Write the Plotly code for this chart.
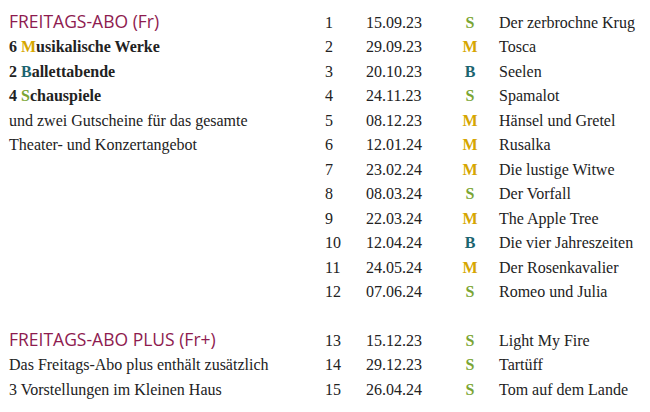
import plotly.graph_objects as go

RED = "#8e1b4f"; GOLD = "#d6a600"; TEAL = "#1b6470"; GREEN = "#7aa533"; INK = "#222222"
cat_color = {"S": GREEN, "M": GOLD, "B": TEAL}

rows = [0,1,2,3,4,5,6,7,8,9,10,11,13,14,15]
numbers = [str(i) for i in range(1, 16)]
dates = ["15.09.23","29.09.23","20.10.23","24.11.23","08.12.23","12.01.24","23.02.24","08.03.24",
         "22.03.24","12.04.24","24.05.24","07.06.24","15.12.23","29.12.23","26.04.24"]
cats = ["S","M","B","S","M","M","M","S","M","B","M","S","S","S","S"]
titles = ["Der zerbrochne Krug","Tosca","Seelen","Spamalot","Hänsel und Gretel","Rusalka","Die lustige Witwe",
          "Der Vorfall","The Apple Tree","Die vier Jahreszeiten","Der Rosenkavalier","Romeo und Julia",
          "Light My Fire","Tartüff","Tom auf dem Lande"]

head_rows = [0, 13]
head_texts = ["FREITAGS-ABO (Fr)", "FREITAGS-ABO PLUS (Fr+)"]
left_rows = [1, 2, 3, 4, 5, 14, 15]
left_texts = [f"<b>6 <span style='color:{GOLD}'>M</span>usikalische Werke</b>",
              f"<b>2 <span style='color:{TEAL}'>B</span>allettabende</b>",
              f"<b>4 <span style='color:{GREEN}'>S</span>chauspiele</b>",
              "und zwei Gutscheine für das gesamte",
              "Theater- und Konzertangebot",
              "Das Freitags-Abo plus enthält zusätzlich",
              "3 Vorstellungen im Kleinen Haus"]

SERIF = "Liberation Serif"
fig = go.Figure()
def txt(x, y, t, pos, font):
    fig.add_trace(go.Scatter(x=[x]*len(y), y=y, text=t, mode="text", textposition=pos,
                             textfont=font, hoverinfo="skip", showlegend=False))

txt(1, head_rows, head_texts, "middle right", dict(family="Open Sans", size=17.5, color=RED, weight=500))
txt(1, left_rows, left_texts, "middle right", dict(family=SERIF, size=16, color=INK))
txt(317, rows, numbers, "middle right", dict(family=SERIF, size=16, color=INK))
txt(358, rows, dates, "middle right", dict(family=SERIF, size=16, color=INK))
txt(462, rows, [f"<b>{c}</b>" for c in cats], "middle center",
    dict(family=SERIF, size=16, color=[cat_color[c] for c in cats]))
txt(491, rows, titles, "middle right", dict(family=SERIF, size=16, color=INK))

fig.update_layout(width=650, height=412, margin=dict(l=0, r=0, t=0, b=0),
                  plot_bgcolor="white", paper_bgcolor="white",
                  xaxis=dict(range=[0, 650], visible=False, fixedrange=True),
                  yaxis=dict(range=[16.19, -0.65], visible=False, fixedrange=True))
fig.write_html("out.html")
